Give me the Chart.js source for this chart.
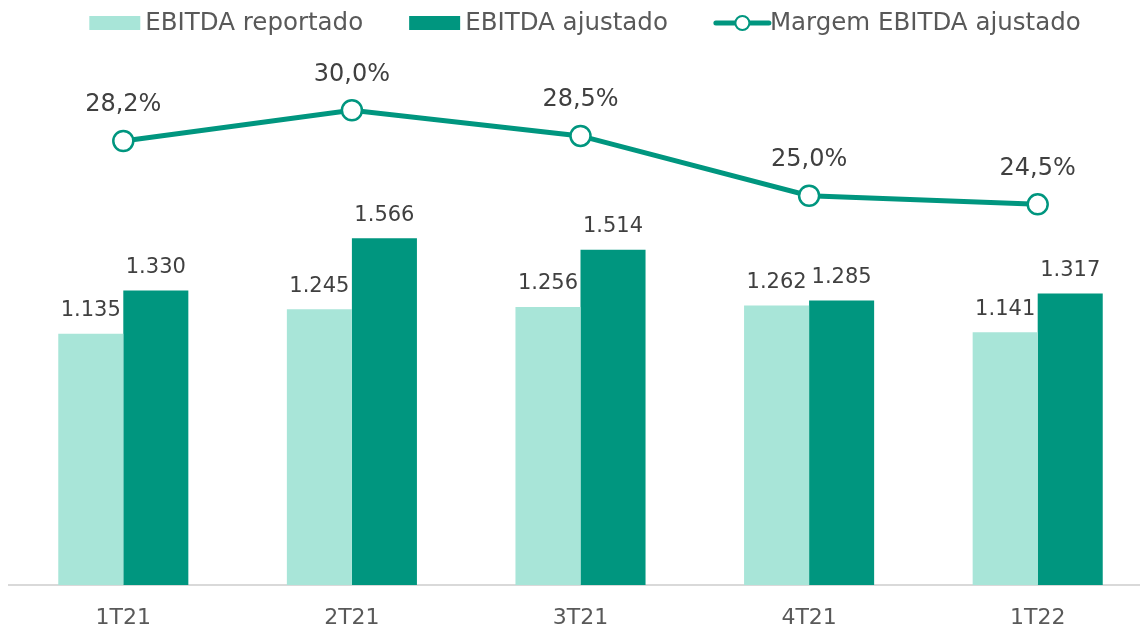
<!DOCTYPE html>
<html>
<head>
<meta charset="utf-8">
<script src="https://cdn.jsdelivr.net/npm/chart.js@4.4.0/dist/chart.umd.min.js"></script>
<style>
    body { margin: 0; background: #fff; overflow: hidden; }
    #ebitda-chart { display: block; }
</style>
</head>
<body>
<canvas id="ebitda-chart" width="1140" height="628"></canvas>
<script>
const quarters = ['1T21', '2T21', '3T21', '4T21', '1T22']
const ebitdaReportado = [1135, 1245, 1256, 1262, 1141]
const ebitdaAjustado = [1330, 1566, 1514, 1285, 1317]
const margemAjustado = [28.2, 30.0, 28.5, 25.0, 24.5]

const LIGHT = '#a8e5d8'
const DARK = '#00967f'
const TEXT = '#595959'
const LABEL = '#404040'
const FONT = "'DejaVu Sans', Verdana, sans-serif"

function formatThousands(v) {
    return String(v).replace(/\B(?=(\d{3})+(?!\d))/g, '.')
}

function formatPercent(v) {
    return v.toFixed(1).replace('.', ',') + '%'
}

// the original plot runs a bit past the right edge of the picture
const extendPlot = {
    id: 'extendPlot',
    afterLayout(chart) {
        const right = 1152
        const x = chart.scales.x
        x.left = 9
        x.right = right
        x.width = right - x.left
        x.configure()
        chart.chartArea.left = 9
        chart.chartArea.right = right
        chart.chartArea.width = right - chart.chartArea.left
    }
}

// numbers above the bars and the points
const valueLabels = {
    id: 'valueLabels',
    afterDatasetsDraw(chart) {
        const ctx = chart.ctx
        ctx.save()
        ctx.textAlign = 'center'
        ctx.textBaseline = 'middle'
        ctx.fillStyle = LABEL
        chart.data.datasets.forEach((ds, i) => {
            const meta = chart.getDatasetMeta(i)
            meta.data.forEach((el, j) => {
                const v = ds.data[j]
                if (ds.type === 'line') {
                    ctx.font = `24px ${FONT}`
                    ctx.fillText(formatPercent(v), el.x, el.y - 36)
                } else {
                    ctx.font = `21px ${FONT}`
                    ctx.fillText(formatThousands(v), el.x, el.y - 23)
                }
            })
        })
        ctx.restore()
    }
}

// legend drawn by hand so the line item gets its circle marker
const topLegend = {
    id: 'topLegend',
    afterDraw(chart) {
        const ctx = chart.ctx
        const swatch = 51
        const gap = 5
        const itemGap = 46
        const y = 23
        ctx.save()
        ctx.font = `24.5px ${FONT}`
        ctx.textBaseline = 'middle'
        const items = chart.data.datasets.map(ds => ({
            ds,
            w: swatch + gap + ctx.measureText(ds.label).width
        }))
        const total = items.reduce((s, it) => s + it.w, 0) + itemGap * (items.length - 1)
        let x = 585 - total / 2
        items.forEach(({ ds }) => {
            if (ds.type === 'line') {
                ctx.strokeStyle = ds.borderColor
                ctx.lineWidth = 5
                ctx.lineCap = 'round'
                ctx.beginPath()
                ctx.moveTo(x + 2, y)
                ctx.lineTo(x + swatch + 4, y)
                ctx.stroke()
                ctx.beginPath()
                ctx.arc(x + swatch / 2 + 3, y, 7, 0, Math.PI * 2)
                ctx.fillStyle = '#fff'
                ctx.fill()
                ctx.lineWidth = 2
                ctx.stroke()
            } else {
                ctx.fillStyle = ds.backgroundColor
                ctx.fillRect(x, y - 7, swatch, 14)
            }
            ctx.fillStyle = TEXT
            ctx.fillText(ds.label, x + swatch + gap, y + 1)
            x += swatch + gap + ctx.measureText(ds.label).width + itemGap
        })
        ctx.restore()
    }
}

new Chart(document.querySelector('#ebitda-chart'), {
    data: {
        labels: quarters,
        datasets: [
            {
                type: 'bar',
                label: 'EBITDA reportado',
                data: ebitdaReportado,
                backgroundColor: LIGHT,
                yAxisID: 'y',
                order: 2
            },
            {
                type: 'bar',
                label: 'EBITDA ajustado',
                data: ebitdaAjustado,
                backgroundColor: DARK,
                yAxisID: 'y',
                order: 2
            },
            {
                type: 'line',
                label: 'Margem EBITDA ajustado',
                data: margemAjustado,
                borderColor: DARK,
                borderWidth: 5,
                pointRadius: 10,
                pointBorderWidth: 2.5,
                pointBackgroundColor: '#fff',
                pointBorderColor: DARK,
                yAxisID: 'y1',
                order: 1
            }
        ]
    },
    options: {
        responsive: false,
        animation: false,
        datasets: {
            bar: { categoryPercentage: 0.569, barPercentage: 1 }
        },
        layout: { padding: { top: 60, left: 10, right: 0, bottom: 0 } },
        plugins: {
            legend: { display: false },
            tooltip: { enabled: false }
        },
        scales: {
            x: {
                grid: { display: false },
                border: { color: '#d9d9d9', width: 2 },
                ticks: { color: TEXT, font: { family: FONT, size: 22 }, padding: 12 },
                afterFit(scale) { scale.height = 43 }
            },
            y: { display: false, min: 0, max: 2371 },
            y1: { display: false, min: 2.24, max: 32.94 }
        }
    },
    plugins: [extendPlot, valueLabels, topLegend]
})
</script>
</body>
</html>
